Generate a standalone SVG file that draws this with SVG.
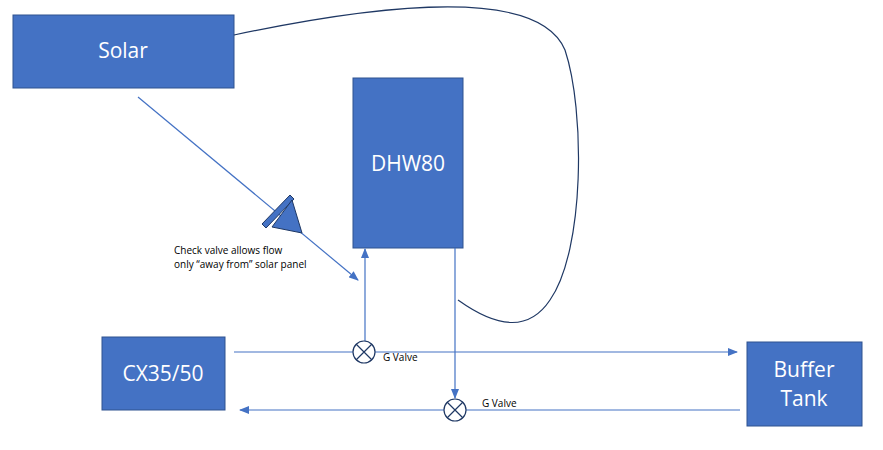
<svg xmlns="http://www.w3.org/2000/svg" width="883" height="450" viewBox="0 0 883 450">
<style>
.box{fill:#4472C4;stroke:#2F528F;stroke-width:1}
.lbl{font-family:"Open Sans","Liberation Sans",sans-serif;font-size:21px;fill:#fff;text-anchor:middle}
.sm{font-family:"Open Sans","Liberation Sans",sans-serif;font-size:10px;fill:#000}
.ln{stroke:#4472C4;stroke-width:1.2;fill:none}
.v{fill:#fff;stroke:#1F3864;stroke-width:1.2}
</style>
<defs><marker id="a" markerWidth="10" markerHeight="8" refX="9" refY="4" orient="auto" markerUnits="userSpaceOnUse"><path d="M0,0L10,4L0,8z" fill="#4472C4"/></marker></defs>
<rect width="883" height="450" fill="#fff"/>
<g id="solar"><rect class="box" x="13" y="15" width="221" height="73"/><text class="lbl" x="123" y="58">Solar</text></g>
<g id="dhw80"><rect class="box" x="353" y="78" width="110" height="170"/><text class="lbl" x="408" y="171">DHW80</text></g>
<g id="cx"><rect class="box" x="102" y="337" width="123" height="73"/><text class="lbl" x="163" y="381">CX35/50</text></g>
<g id="buffer"><rect class="box" x="747" y="342" width="115" height="84"/><text class="lbl" x="804" y="377">Buffer</text><text class="lbl" x="804" y="406">Tank</text></g>
<g id="connectors">
<path class="ln" d="M138,97L358,280" marker-end="url(#a)"/>
<path class="ln" d="M365,341L365,249" marker-end="url(#a)"/>
<path class="ln" d="M234,352L737,352" marker-end="url(#a)"/>
<path class="ln" d="M455,248L455,398" marker-end="url(#a)"/>
<path class="ln" d="M740,410L240,410" marker-end="url(#a)"/>
<path d="M234,35C400,0 540,-10 565,50C585,110 585,250 550,300C530,330 500,330 458,300" fill="none" stroke="#1F3864" stroke-width="1.2"/>
</g>
<g id="checkvalve">
<path d="M262,224L290,195L294,199L266,228z" fill="#4472C4" stroke="#1F3864"/>
<path d="M272,227L302,233L292,200z" fill="#4472C4" stroke="#1F3864"/>
</g>
<g id="gvalve1"><circle class="v" cx="364" cy="352" r="11"/><path d="M356,344L372,360M372,344L356,360" stroke="#1F3864" stroke-width="1.2"/></g>
<g id="gvalve2"><circle class="v" cx="455" cy="410" r="11"/><path d="M447,402L463,418M463,402L447,418" stroke="#1F3864" stroke-width="1.2"/></g>
<text class="sm" x="383" y="361">G Valve</text>
<text class="sm" x="482" y="407">G Valve</text>
<text class="sm" x="174" y="254">Check valve allows flow</text>
<text class="sm" x="174" y="268">only “away from” solar panel</text>
</svg>
